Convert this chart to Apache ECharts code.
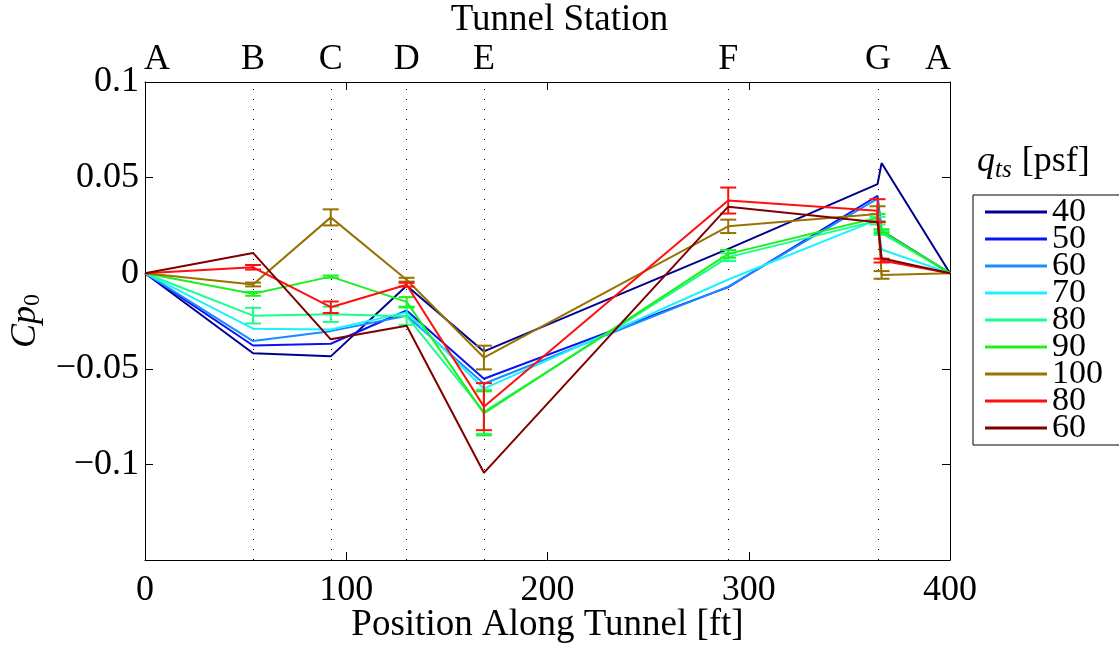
<!DOCTYPE html>
<html>
<head>
<meta charset="utf-8">
<script src="https://cdn.jsdelivr.net/npm/echarts@6/dist/echarts.min.js"></script>
<style>
html,body{margin:0;padding:0;background:#fff;}
#chart{width:1119px;height:648px;}
</style>
</head>
<body>
<div id="chart"></div>
<script>
// Station positions along tunnel [ft]: A, B, C, D, E, F, G1, G2, A
const stationX = [0, 53.7, 92.3, 130, 168.4, 289.8, 364, 366, 400];
// Top-axis station labels
const topLabelPos = [6, 53.7, 92.3, 130, 168.4, 289.8, 364.2, 394];
const topLabelText = ['A', 'B', 'C', 'D', 'E', 'F', 'G', 'A'];
// Dotted station lines
const stationLines = [53.7, 92.3, 130, 168.4, 289.8, 364.2];

const seriesNames = ['40', '50', '60', '70', '80', '90', '100', '80 ', '60 '];
const seriesColors = ['#00008f', '#0a14f0', '#1a8cff', '#1af2ff', '#1aff8c', '#1ef01e', '#967300', '#ff0f0f', '#800000'];

const cp40  = [0, -0.0419, -0.0435, -0.0066, -0.0409, 0.0127, 0.0466, 0.0576, 0];
const cp50  = [0, -0.0378, -0.0369, -0.0195, -0.0552, -0.0073, 0.0405, 0.0223, 0];
const cp60  = [0, -0.0355, -0.0303, -0.0222, -0.0578, -0.0070, 0.0390, 0.0215, 0];
const cp70  = [0, -0.0290, -0.0294, -0.0205, -0.0604, -0.0033, 0.0280, 0.0124, 0];
const cp80  = [0, -0.0222, -0.0215, -0.0225, -0.0725, 0.0084, 0.0275, 0.0210, 0];
const cp90  = [0, -0.0108, -0.0018, -0.0150, -0.0733, 0.0101, 0.0290, 0.0220, 0];
const cp100 = [0, -0.0059, 0.0292, -0.0034, -0.0441, 0.0245, 0.0310, -0.0009, 0];
const cp80b = [0, 0.0031, -0.0178, -0.0060, -0.0698, 0.0380, 0.0327, 0.0066, 0];
const cp60b = [0, 0.0106, -0.0346, -0.0275, -0.1044, 0.0348, 0.0266, 0.0078, 0];

// Error bar half-widths (null = no bar)
const err80  = [null, 0.0041, 0.0040, 0.0045, 0.0115, 0.0020, 0.0020, 0.0010, null];
const err90  = [null, 0.0010, 0.0006, 0.0025, 0.0115, 0.0020, 0.0020, 0.0010, null];
const err100 = [null, 0.0010, 0.0042, 0.0010, 0.0062, 0.0035, 0.0040, 0.0020, null];
const err80b = [null, 0.0012, 0.0030, 0.0010, 0.0123, 0.0068, 0.0060, 0.0010, null];

const allValues = [cp40, cp50, cp60, cp70, cp80, cp90, cp100, cp80b, cp60b];
const errSets = [[4, err80], [5, err90], [6, err100], [7, err80b]];

const serif = 'Liberation Serif';

function fmtY(v) {
  const r = parseFloat(v.toFixed(3));
  if (Math.abs(r + 0.15) < 1e-6) return '';
  if (r === 0) return '0';
  return (r < 0 ? '\u2212' : '') + String(Math.abs(r));
}

const series = [];
allValues.forEach((vals, i) => {
  series.push({
    name: seriesNames[i],
    type: 'line',
    symbol: 'none',
    z: 2 + i,
    data: stationX.map((x, k) => [x, vals[k]]),
    lineStyle: { color: seriesColors[i], width: 2 },
    itemStyle: { color: seriesColors[i] },
    emphasis: { disabled: true },
    animation: false
  });
});

errSets.forEach(([idx, errs]) => {
  const vals = allValues[idx];
  const data = [];
  stationX.forEach((x, k) => {
    if (errs[k] != null) data.push([x, vals[k], vals[k] - errs[k], vals[k] + errs[k]]);
  });
  const color = seriesColors[idx];
  series.push({
    name: seriesNames[idx],
    type: 'custom',
    z: 2 + idx,
    data: data,
    encode: { x: 0, y: [1, 2, 3] },
    animation: false,
    renderItem: function (params, api) {
      const lo = api.coord([api.value(0), api.value(2)]);
      const hi = api.coord([api.value(0), api.value(3)]);
      const w = 8;
      const st = { stroke: color, lineWidth: 2, fill: null };
      return {
        type: 'group',
        children: [
          { type: 'line', shape: { x1: lo[0], y1: lo[1], x2: hi[0], y2: hi[1] }, style: st },
          { type: 'line', shape: { x1: lo[0] - w, y1: lo[1], x2: lo[0] + w, y2: lo[1] }, style: st },
          { type: 'line', shape: { x1: hi[0] - w, y1: hi[1], x2: hi[0] + w, y2: hi[1] }, style: st }
        ]
      };
    }
  });
});

// Dotted station lines
series.push({
  name: 'stations',
  type: 'line',
  data: [],
  silent: true,
  markLine: {
    symbol: 'none',
    silent: true,
    animation: false,
    label: { show: false },
    lineStyle: { color: '#000', width: 1, type: [1, 9] },
    data: stationLines.map(x => ({ xAxis: x }))
  }
});

const chart = echarts.init(document.getElementById('chart'), null, { renderer: 'canvas' });
chart.setOption({
  animation: false,
  backgroundColor: '#fff',
  textStyle: { fontFamily: serif },
  title: {
    text: 'Tunnel Station',
    left: 'center',
    top: 2,
    padding: 0,
    textStyle: { fontFamily: serif, fontSize: 37, fontWeight: 'normal', color: '#000' }
  },
  grid: { left: 145, right: 169, top: 82, bottom: 88, outerBoundsMode: 'none', containLabel: false },
  legend: {
    data: seriesNames.map(n => ({ name: n, icon: 'rect' })),
    orient: 'vertical',
    left: 973,
    top: 195,
    padding: [0, 60, 0, 12],
    itemGap: -7,
    itemWidth: 62,
    itemHeight: 3,
    borderColor: '#000',
    borderWidth: 1,
    backgroundColor: '#fff',
    textStyle: { fontFamily: serif, fontSize: 34, color: '#000' },
    selectedMode: false
  },
  xAxis: [
    {
      type: 'value', min: 0, max: 400, interval: 100, position: 'bottom',
      name: 'Position Along Tunnel [ft]', nameLocation: 'middle', nameGap: 47,
      nameMoveOverlap: false,
      nameTextStyle: { fontFamily: serif, fontSize: 37, color: '#000' },
      axisLine: { show: true, onZero: false, lineStyle: { color: '#000', width: 1 } },
      axisTick: { show: true, inside: true, length: 8, lineStyle: { color: '#000' } },
      axisLabel: { fontFamily: serif, fontSize: 36, color: '#000', margin: 13 },
      splitLine: { show: false }
    },
    {
      type: 'value', min: 0, max: 400, position: 'top',
      axisLine: { show: true, onZero: false, lineStyle: { color: '#000', width: 1 } },
      axisTick: { show: true, inside: true, length: 8, customValues: [0, 100, 200, 300, 400], lineStyle: { color: '#000' } },
      axisLabel: {
        customValues: topLabelPos,
        fontFamily: serif, fontSize: 36, color: '#000', margin: 4,
        formatter: function (v) {
          let best = 0, bd = 1e9;
          topLabelPos.forEach((p, i) => { const d = Math.abs(p - v); if (d < bd) { bd = d; best = i; } });
          return topLabelText[best];
        }
      },
      splitLine: { show: false }
    }
  ],
  yAxis: [
    {
      type: 'value', min: -0.15, max: 0.1, interval: 0.05, position: 'left',
      name: '{i|Cp}{s|0}', nameLocation: 'middle', nameGap: 96,
      nameTextStyle: {
        rich: {
          i: { fontFamily: serif, fontStyle: 'italic', fontSize: 36, color: '#000' },
          s: { fontFamily: serif, fontSize: 24, color: '#000', verticalAlign: 'bottom', padding: [14, 0, 0, 0] }
        }
      },
      axisLine: { show: true, onZero: false, lineStyle: { color: '#000', width: 1 } },
      axisTick: { show: true, inside: true, length: 8, lineStyle: { color: '#000' } },
      axisLabel: { fontFamily: serif, fontSize: 36, color: '#000', margin: 6, formatter: fmtY },
      splitLine: { show: false }
    },
    {
      type: 'value', min: -0.15, max: 0.1, interval: 0.05, position: 'right',
      axisLine: { show: true, onZero: false, lineStyle: { color: '#000', width: 1 } },
      axisTick: { show: true, inside: true, length: 8, lineStyle: { color: '#000' } },
      axisLabel: { show: false },
      splitLine: { show: false }
    }
  ],
  graphic: [
    {
      type: 'text',
      left: 977,
      top: 144,
      style: {
        text: '{q|q}{s|ts}{p|[psf]}',
        rich: {
          q: { fontFamily: serif, fontStyle: 'italic', fontSize: 36, fill: '#000' },
          s: { fontFamily: serif, fontStyle: 'italic', fontSize: 25, fill: '#000', padding: [16, 10, 0, 0] },
          p: { fontFamily: serif, fontSize: 36, fill: '#000' }
        }
      }
    }
  ],
  series: series
});
</script>
</body>
</html>
